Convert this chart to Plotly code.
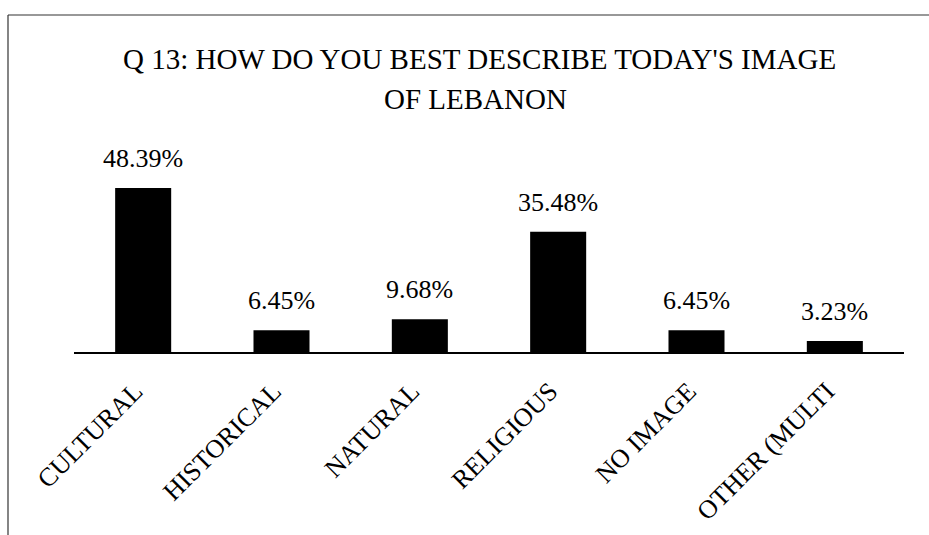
import plotly.graph_objects as go

# Survey responses, Q13
categories = ["CULTURAL", "HISTORICAL", "NATURAL", "RELIGIOUS", "NO IMAGE", "OTHER (MULTI"]
shares = [48.39, 6.45, 9.68, 35.48, 6.45, 3.23]
share_labels = [f"{v:.2f}%" for v in shares]

W, H = 929, 535
ML, MR, MT, MB = 74, 25, 170, 183
PW, PH = W - ML - MR, H - MT - MB

def px_x(px):
    return (px - ML) / PW

def px_y(py):
    return (H - MB - py) / PH

SERIF = "Liberation Serif, Times New Roman, serif"

fig = go.Figure(
    go.Bar(
        x=categories,
        y=shares,
        marker=dict(color="black", line=dict(width=0)),
        width=0.405,
    )
)

# value labels above each bar
for c, v, t in zip(categories, shares, share_labels):
    fig.add_annotation(
        x=c, y=v, text=t, showarrow=False,
        yanchor="bottom", yshift=13,
        font=dict(family=SERIF, size=26, color="black"),
    )

# title, two lines
fig.add_annotation(
    x=px_x(479), y=px_y(59), xref="paper", yref="paper",
    text="Q 13: HOW DO YOU BEST DESCRIBE TODAY'S IMAGE",
    showarrow=False, yanchor="middle", xanchor="center",
    font=dict(family=SERIF, size=29, color="black"),
)
fig.add_annotation(
    x=px_x(475), y=px_y(99), xref="paper", yref="paper",
    text="OF LEBANON",
    showarrow=False, yanchor="middle", xanchor="center",
    font=dict(family=SERIF, size=29, color="black"),
)

# frame edges (left and top)
fig.add_shape(type="line", xref="paper", yref="paper",
              x0=px_x(8), x1=px_x(8), y0=px_y(15), y1=px_y(535),
              line=dict(color="#333", width=1.2))
fig.add_shape(type="line", xref="paper", yref="paper",
              x0=px_x(8), x1=px_x(929), y0=px_y(15), y1=px_y(15),
              line=dict(color="#333", width=1.2))

fig.update_layout(
    width=W, height=H,
    margin=dict(l=ML, r=MR, t=MT, b=MB, autoexpand=False),
    paper_bgcolor="white", plot_bgcolor="white",
    showlegend=False,
    bargap=0.6,
    xaxis=dict(
        showline=True, linecolor="black", linewidth=1.5,
        ticks="", tickangle=-45, ticklabelstandoff=12, ticklabelshift=-8,
        tickfont=dict(family=SERIF, size=26, color="black"),
        showgrid=False, zeroline=False, automargin=False,
    ),
    yaxis=dict(
        range=[0, PH / 3.39], visible=False, showgrid=False, zeroline=False,
        automargin=False,
    ),
)

fig.write_html("out.html")
